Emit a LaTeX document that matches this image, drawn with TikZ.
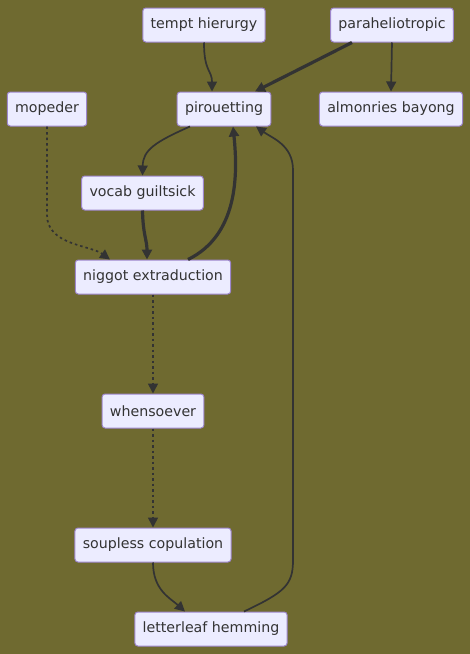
\documentclass[tikz,border=0pt]{standalone}
\usepackage{fontspec}
\setmainfont{DejaVu Sans}
\usetikzlibrary{arrows.meta}
\definecolor{olivebg}{HTML}{6F6A30}
\definecolor{boxfill}{HTML}{ECECFF}
\definecolor{boxline}{HTML}{9D86CC}
\definecolor{edgecol}{HTML}{333333}
\tikzset{
  box/.style={draw=boxline, fill=boxfill, rounded corners=3pt, line width=1pt,
    minimum height=34pt, inner xsep=7.8pt, font=\fontsize{14.2}{16}\selectfont, text=edgecol},
  edge/.style={draw=edgecol, line width=1.7pt, -{Triangle[length=10pt,width=10pt]}},
  thickedge/.style={edge, line width=3.2pt},
  dottededge/.style={edge, dash pattern=on 2.5pt off 3pt}
}
\begin{document}
\begin{tikzpicture}[x=1pt,y=-1pt]
		\fill[olivebg] (0,0) rectangle (470,654);
		\useasboundingbox (0,0) rectangle (470,654);
		% nodes
		\node[box] (tempt) at (204,25) {tempt hierurgy};
		\node[box] (para) at (392,25) {paraheliotropic};
		\node[box] (mopeder) at (47,109) {mopeder};
		\node[box] (pirou) at (224,109) {pirouetting};
		\node[box] (almon) at (391,109) {almonries bayong};
		\node[box] (vocab) at (142.5,193) {vocab guiltsick};
		\node[box] (niggot) at (153,277) {niggot extraduction};
		\node[box] (whens) at (153,411) {whensoever};
		\node[box] (soup) at (153,545) {soupless copulation};
		\node[box] (letter) at (211,629) {letterleaf hemming};
		% edges
		\draw[edge] (tempt.south) .. controls (204,72) and (212,70) .. ([xshift=-12]pirou.north);
		\draw[thickedge] ([xshift=-40]para.south) -- ([xshift=31]pirou.north);
		\draw[edge] (para.south) -- (almon.north);
		\draw[dottededge] (mopeder.south) -- (47,215) .. controls (47,245) and (90,245) .. ([xshift=-43]niggot.north);
		\draw[edge] ([xshift=-34]pirou.south) .. controls (155,142) and (143,150) .. (vocab.north);
		\draw[thickedge] (vocab.south) .. controls (143,235) and (147,240) .. ([xshift=-6]niggot.north);
		\draw[thickedge] ([xshift=35]niggot.north) .. controls (238,235) and (238,175) .. ([xshift=9]pirou.south);
		\draw[dottededge] (niggot.south) -- (whens.north);
		\draw[dottededge] (whens.south) -- (soup.north);
		\draw[edge] (soup.south) .. controls (153,590) and (170,598) .. ([xshift=-26]letter.north);
		\draw[edge] ([xshift=33]letter.north) .. controls (285,592) and (293,585) .. (293,560)
			-- (293,170) .. controls (293,145) and (272,138) .. ([xshift=32]pirou.south);
	\end{tikzpicture}
\end{document}
